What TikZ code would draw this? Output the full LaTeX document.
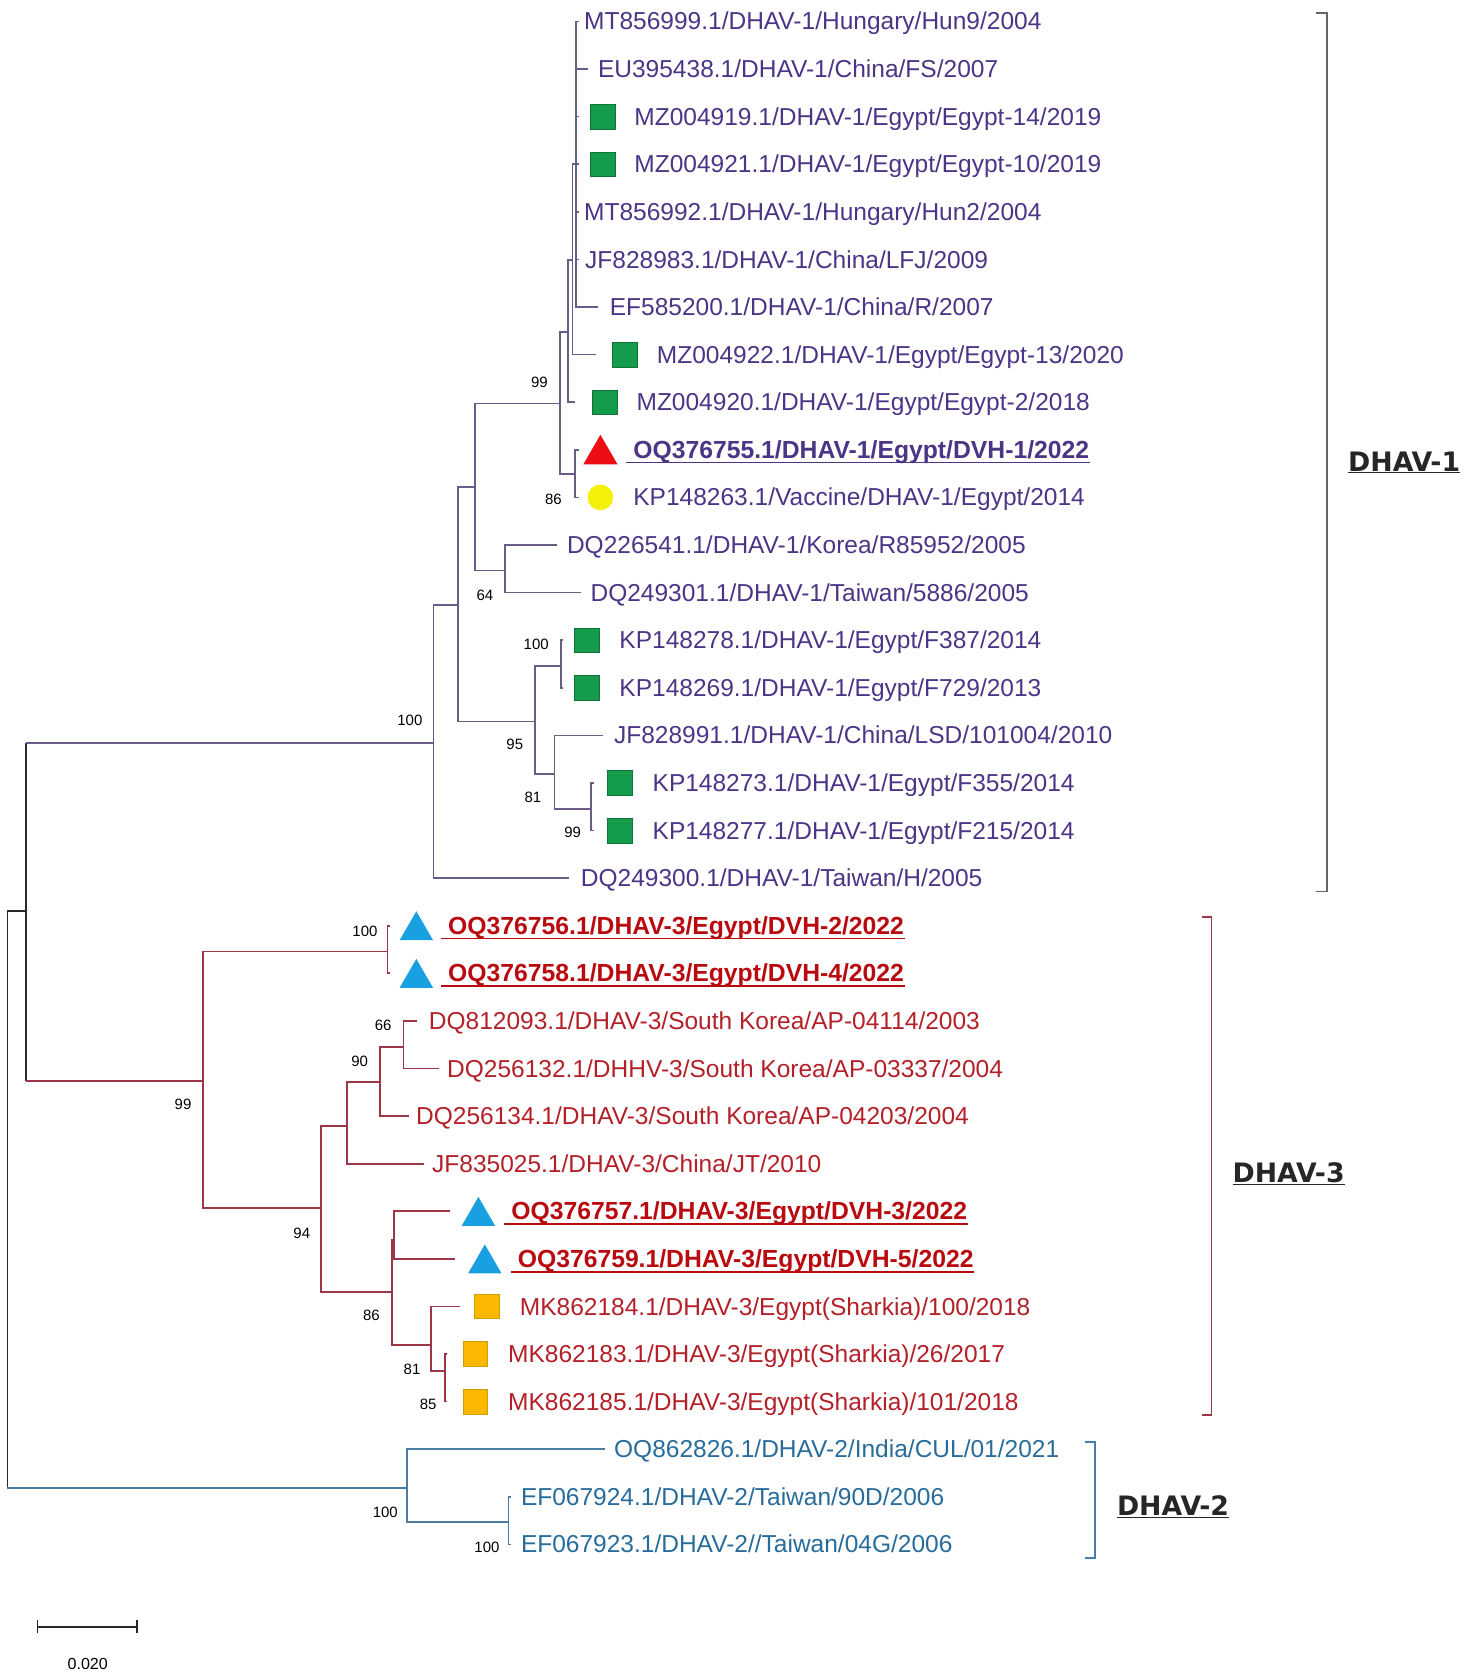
\documentclass[tikz,border=0pt]{standalone}
\usepackage{fontspec}
\setmainfont{Liberation Sans}
\newfontfamily\cladefont{DejaVu Sans}
\usetikzlibrary{shapes.geometric}
\definecolor{ptext}{RGB}{76,52,135}
\definecolor{pline}{RGB}{105,92,135}
\definecolor{rtext}{RGB}{180,32,40}
\definecolor{rbold}{RGB}{185,10,15}
\definecolor{rline}{RGB}{155,55,70}
\definecolor{btext}{RGB}{40,108,155}
\definecolor{bline}{RGB}{75,125,165}
\definecolor{gsq}{RGB}{20,155,75}
\definecolor{osq}{RGB}{250,185,0}
\definecolor{btri}{RGB}{25,160,225}
\definecolor{rtri}{RGB}{235,15,20}
\definecolor{ycirc}{RGB}{245,240,10}
\definecolor{dark}{RGB}{40,40,45}
\definecolor{brk}{RGB}{100,100,110}
\tikzset{
 taxon/.style={anchor=base west, inner sep=0, font=\fontsize{22.9}{26}\selectfont},
 btaxon/.style={taxon, font=\fontsize{23.1}{26}\selectfont\bfseries},
 boot/.style={inner sep=0, font=\fontsize{14}{16}\selectfont, text=black},
 gsquare/.style={rectangle, fill=gsq, draw=gsq!75!black, line width=0.6pt, minimum size=23pt, inner sep=0},
 osquare/.style={rectangle, fill=osq, draw=osq!85!black, line width=0.6pt, minimum size=23pt, inner sep=0},
 ycircle/.style={circle, fill=ycirc, minimum size=24pt, inner sep=0},
 rtriangle/.style={regular polygon, regular polygon sides=3, fill=rtri, minimum size=37pt, inner sep=0, yshift=-4.5pt},
 btriangle/.style={regular polygon, regular polygon sides=3, fill=btri, minimum size=36pt, inner sep=0, yshift=-4.5pt},
 cladelbl/.style={inner sep=0, font=\cladefont\bfseries\fontsize{25}{28}\selectfont, text=black!85},
 uline/.style={line width=1.6pt},
}
\newcommand{\tx}[6]{\node[#6,text=#4] (#1) at (#2,#3+8) {#5};}
\begin{document}
\begin{tikzpicture}[x=1pt,y=-1pt,line width=1.6pt]
\useasboundingbox (0,0) rectangle (1380,1569.7);
% ---------- leaf tips ----------
\coordinate (t1) at (541,20);
\coordinate (t2) at (549,64.5);
\coordinate (t3) at (541,108.9);
\coordinate (t4) at (541,153.4);
\coordinate (t5) at (541,197.9);
\coordinate (t6) at (541,242.4);
\coordinate (t7) at (559,286.8);
\coordinate (t8) at (557,331.3);
\coordinate (t9) at (537,375.8);
\coordinate (t10) at (541,420.2);
\coordinate (t11) at (541,464.7);
\coordinate (t12) at (520,509.2);
\coordinate (t13) at (543,553.6);
\coordinate (t14) at (526,598.1);
\coordinate (t15) at (526,642.6);
\coordinate (t16) at (563,687.1);
\coordinate (t17) at (555,731.5);
\coordinate (t18) at (555,776);
\coordinate (t19) at (532,820.5);
\coordinate (t20) at (364,864.9);
\coordinate (t21) at (364,909.4);
\coordinate (t22) at (390,953.9);
\coordinate (t23) at (410,998.3);
\coordinate (t24) at (382,1042.8);
\coordinate (t25) at (396,1087.3);
\coordinate (t26) at (420,1131.8);
\coordinate (t27) at (425,1176.2);
\coordinate (t28) at (430,1220.7);
\coordinate (t29) at (418,1265.2);
\coordinate (t30) at (418,1309.6);
\coordinate (t31) at (565,1354.1);
\coordinate (t32) at (477,1398.6);
\coordinate (t33) at (477,1443);
% ---------- internal nodes ----------
\coordinate (root) at (7,1120);
\coordinate (A) at (24,851);
\coordinate (N1) at (405,694);
\coordinate (B) at (428,565);
\coordinate (C) at (444,455);
\coordinate (E) at (472,533);
\coordinate (F) at (523,377);
\coordinate (G0) at (531,310);
\coordinate (G1) at (535,243);
\coordinate (G2) at (538,153);
\coordinate (H) at (537,443);
\coordinate (D) at (500,674);
\coordinate (I) at (524,622);
\coordinate (J) at (518,723);
\coordinate (K) at (552,756);
\coordinate (L) at (190,1010);
\coordinate (M) at (362,889);
\coordinate (N) at (300,1129);
\coordinate (O) at (324,1052);
\coordinate (P) at (355,1011);
\coordinate (Q) at (377,978);
\coordinate (R) at (366,1207);
\coordinate (S) at (368,1158);
\coordinate (T) at (403,1257);
\coordinate (U) at (416,1281);
\coordinate (V) at (380,1390);
\coordinate (W) at (475,1422);
% ---------- branches ----------
\draw[dark] (root |- A) -- (root |- V);
\draw[dark] (root |- A) -- (A);
\draw[bline] (root |- V) -- (V);
\draw[dark] (A |- N1) -- (A |- L);
\draw[pline] (A |- N1) -- (N1);
\draw[rline] (A |- L) -- (L);
\begin{scope}[pline]
\draw (N1) |- (B); \draw (N1) |- (t19);
\draw (B) |- (C); \draw (B) |- (D);
\draw (C) |- (F); \draw (C) |- (E);
\draw (E) |- (t12); \draw (E) |- (t13);
\draw (F) |- (G0); \draw (F) |- (H);
\draw (G0) |- (G1); \draw (G0) |- (t9);
\draw (G1) |- (G2); \draw (G1) |- (t8);
\foreach \i in {1,...,7} {\draw (G2) |- (t\i);}
\draw (H) |- (t10); \draw (H) |- (t11);
\draw (D) |- (I); \draw (D) |- (J);
\draw (I) |- (t14); \draw (I) |- (t15);
\draw (J) |- (t16); \draw (J) |- (K);
\draw (K) |- (t17); \draw (K) |- (t18);
\end{scope}
\begin{scope}[rline]
\draw (L) |- (M); \draw (L) |- (N);
\draw (M) |- (t20); \draw (M) |- (t21);
\draw (N) |- (O); \draw (N) |- (R);
\draw (O) |- (P); \draw (O) |- (t25);
\draw (P) |- (Q); \draw (P) |- (t24);
\draw (Q) |- (t22); \draw (Q) |- (t23);
\draw (R) |- (S); \draw (R) |- (T);
\draw (S) |- (t26); \draw (S) |- (t27);
\draw (T) |- (t28); \draw (T) |- (U);
\draw (U) |- (t29); \draw (U) |- (t30);
\end{scope}
\begin{scope}[bline]
\draw (V) |- (t31); \draw (V) |- (W);
\draw (W) |- (t32); \draw (W) |- (t33);
\end{scope}
% ---------- symbols ----------
\node[gsquare] (s3) at (563,108.9) {};
\node[gsquare] (s4) at (563,153.4) {};
\node[gsquare] (s8) at (584,331.3) {};
\node[gsquare] (s9) at (565,375.8) {};
\node[rtriangle] (s10) at (561,420.2) {};
\node[ycircle] (s11) at (561,464.7) {};
\node[gsquare] (s14) at (548,598.1) {};
\node[gsquare] (s15) at (548,642.6) {};
\node[gsquare] (s17) at (579,731.5) {};
\node[gsquare] (s18) at (579,776) {};
\node[btriangle] (s20) at (389,864.9) {};
\node[btriangle] (s21) at (389,909.4) {};
\node[btriangle] (s26) at (447,1131.8) {};
\node[btriangle] (s27) at (453,1176.2) {};
\node[osquare] (s28) at (455,1220.7) {};
\node[osquare] (s29) at (444,1265.2) {};
\node[osquare] (s30) at (444,1309.6) {};
% ---------- labels ----------
\tx{l1}{545}{20}{ptext}{MT856999.1/DHAV-1/Hungary/Hun9/2004}{taxon}
\tx{l2}{558}{64.5}{ptext}{EU395438.1/DHAV-1/China/FS/2007}{taxon}
\tx{l3}{592}{108.9}{ptext}{MZ004919.1/DHAV-1/Egypt/Egypt-14/2019}{taxon}
\tx{l4}{592}{153.4}{ptext}{MZ004921.1/DHAV-1/Egypt/Egypt-10/2019}{taxon}
\tx{l5}{545}{197.9}{ptext}{MT856992.1/DHAV-1/Hungary/Hun2/2004}{taxon}
\tx{l6}{546}{242.4}{ptext}{JF828983.1/DHAV-1/China/LFJ/2009}{taxon}
\tx{l7}{569}{286.8}{ptext}{EF585200.1/DHAV-1/China/R/2007}{taxon}
\tx{l8}{613}{331.3}{ptext}{MZ004922.1/DHAV-1/Egypt/Egypt-13/2020}{taxon}
\tx{l9}{594}{375.8}{ptext}{MZ004920.1/DHAV-1/Egypt/Egypt-2/2018}{taxon}
\tx{l10}{591}{420.2}{ptext}{OQ376755.1/DHAV-1/Egypt/DVH-1/2022}{btaxon}
\tx{l11}{591}{464.7}{ptext}{KP148263.1/Vaccine/DHAV-1/Egypt/2014}{taxon}
\tx{l12}{529}{509.2}{ptext}{DQ226541.1/DHAV-1/Korea/R85952/2005}{taxon}
\tx{l13}{551}{553.6}{ptext}{DQ249301.1/DHAV-1/Taiwan/5886/2005}{taxon}
\tx{l14}{578}{598.1}{ptext}{KP148278.1/DHAV-1/Egypt/F387/2014}{taxon}
\tx{l15}{578}{642.6}{ptext}{KP148269.1/DHAV-1/Egypt/F729/2013}{taxon}
\tx{l16}{573}{687.1}{ptext}{JF828991.1/DHAV-1/China/LSD/101004/2010}{taxon}
\tx{l17}{609}{731.5}{ptext}{KP148273.1/DHAV-1/Egypt/F355/2014}{taxon}
\tx{l18}{609}{776}{ptext}{KP148277.1/DHAV-1/Egypt/F215/2014}{taxon}
\tx{l19}{542}{820.5}{ptext}{DQ249300.1/DHAV-1/Taiwan/H/2005}{taxon}
\tx{l20}{418}{864.9}{rbold}{OQ376756.1/DHAV-3/Egypt/DVH-2/2022}{btaxon}
\tx{l21}{418}{909.4}{rbold}{OQ376758.1/DHAV-3/Egypt/DVH-4/2022}{btaxon}
\tx{l22}{400}{953.9}{rtext}{DQ812093.1/DHAV-3/South Korea/AP-04114/2003}{taxon}
\tx{l23}{417}{998.3}{rtext}{DQ256132.1/DHHV-3/South Korea/AP-03337/2004}{taxon}
\tx{l24}{388}{1042.8}{rtext}{DQ256134.1/DHAV-3/South Korea/AP-04203/2004}{taxon}
\tx{l25}{403}{1087.3}{rtext}{JF835025.1/DHAV-3/China/JT/2010}{taxon}
\tx{l26}{477}{1131.8}{rbold}{OQ376757.1/DHAV-3/Egypt/DVH-3/2022}{btaxon}
\tx{l27}{483}{1176.2}{rbold}{OQ376759.1/DHAV-3/Egypt/DVH-5/2022}{btaxon}
\tx{l28}{485}{1220.7}{rtext}{MK862184.1/DHAV-3/Egypt(Sharkia)/100/2018}{taxon}
\tx{l29}{474}{1265.2}{rtext}{MK862183.1/DHAV-3/Egypt(Sharkia)/26/2017}{taxon}
\tx{l30}{474}{1309.6}{rtext}{MK862185.1/DHAV-3/Egypt(Sharkia)/101/2018}{taxon}
\tx{l31}{573}{1354.1}{btext}{OQ862826.1/DHAV-2/India/CUL/01/2021}{taxon}
\tx{l32}{486}{1398.6}{btext}{EF067924.1/DHAV-2/Taiwan/90D/2006}{taxon}
\tx{l33}{486}{1443}{btext}{EF067923.1/DHAV-2//Taiwan/04G/2006}{taxon}
% underlines of the new isolates
\draw[uline,ptext] ([xshift=-6pt,yshift=-4pt]l10.base west) -- ([yshift=-4pt]l10.base east);
\foreach \n in {l20,l21,l26,l27}
 {\draw[uline,rbold] ([xshift=-6pt,yshift=-4pt]\n.base west) -- ([yshift=-4pt]\n.base east);}
% ---------- bootstrap values ----------
\node[boot] (b1) at (383,673) {100};
\node[boot] (b2) at (504,357) {99};
\node[boot] (b3) at (517,467) {86};
\node[boot] (b4) at (453,556) {64};
\node[boot] (b5) at (501,602) {100};
\node[boot] (b6) at (481,695) {95};
\node[boot] (b7) at (498,745) {81};
\node[boot] (b8) at (535,778) {99};
\node[boot] (b9) at (341,870) {100};
\node[boot] (b10) at (358,958) {66};
\node[boot] (b11) at (336,992) {90};
\node[boot] (b12) at (171,1032) {99};
\node[boot] (b13) at (282,1152) {94};
\node[boot] (b14) at (347,1229) {86};
\node[boot] (b15) at (385,1279) {81};
\node[boot] (b16) at (400,1312) {85};
\node[boot] (b17) at (360,1413) {100};
\node[boot] (b18) at (455,1446) {100};
% ---------- clade brackets ----------
\coordinate (k1a) at (1240,12); \coordinate (k1b) at (1240,833);
\draw[brk] ([xshift=-10pt]k1a) -- (k1a) -- (k1b) -- ([xshift=-10pt]k1b);
\node[cladelbl] (c1) at (1312,432) {\underline{DHAV-1}};
\coordinate (k3a) at (1132,857); \coordinate (k3b) at (1132,1322);
\draw[rline] ([xshift=-9pt]k3a) -- (k3a) -- (k3b) -- ([xshift=-9pt]k3b);
\node[cladelbl] (c3) at (1204,1097) {\underline{DHAV-3}};
\coordinate (k2a) at (1023,1347); \coordinate (k2b) at (1023,1456);
\draw[bline] ([xshift=-9pt]k2a) -- (k2a) -- (k2b) -- ([xshift=-9pt]k2b);
\node[cladelbl] (c2) at (1096,1408) {\underline{DHAV-2}};
% ---------- scale bar ----------
\coordinate (sa) at (35,1520); \coordinate (sb) at (128,1520);
\draw[dark] (sa) -- (sb);
\draw[dark] ([yshift=6pt]sa) -- ([yshift=-6pt]sa);
\draw[dark] ([yshift=6pt]sb) -- ([yshift=-6pt]sb);
\node[boot, font=\fontsize{15}{17}\selectfont] (sl) at (82,1555) {0.020};
\end{tikzpicture}
\end{document}
